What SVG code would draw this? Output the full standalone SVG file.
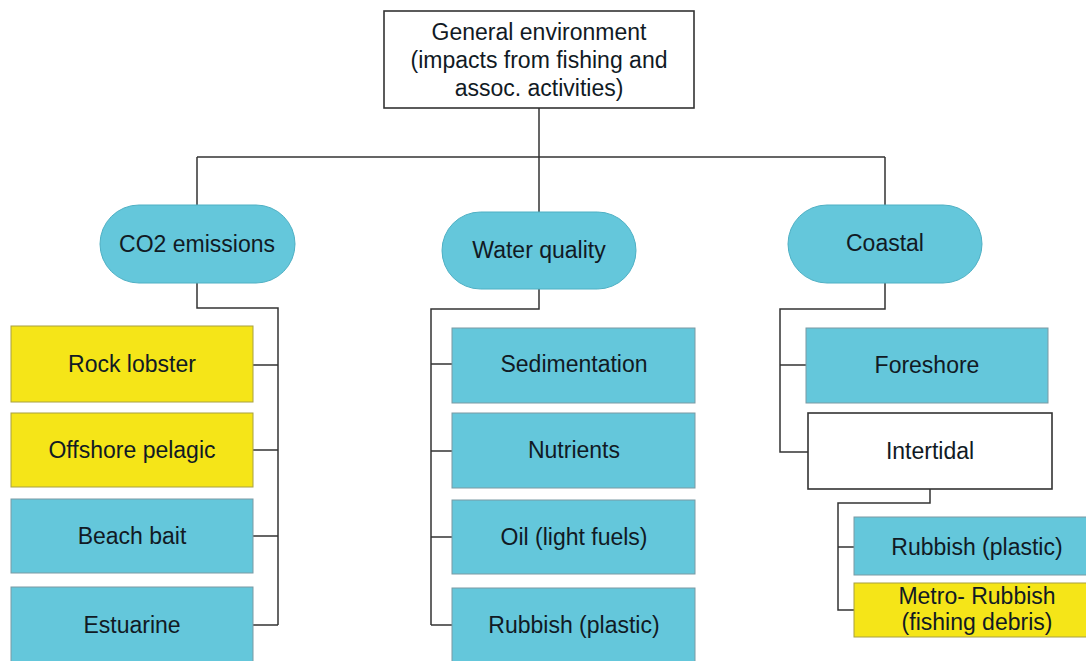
<svg xmlns="http://www.w3.org/2000/svg" width="1086" height="661" viewBox="0 0 1086 661">
<style>
.bg{fill:#ffffff}
.pill{fill:#64c7db;stroke:#4fb0c4;stroke-width:1}
.blue{fill:#64c7db;stroke:#7a9aa3;stroke-width:1}
.yellow{fill:#f5e518;stroke:#a8a040;stroke-width:1}
.white{fill:#ffffff;stroke:#333333;stroke-width:1.6}
.lbl{font-family:"Liberation Sans",Arial,sans-serif;font-size:23px;fill:#111a24;text-anchor:middle}
.conn{fill:none;stroke:#333333;stroke-width:1.5}
</style>
<rect class="bg" x="0" y="0" width="1086" height="661"/>
<g id="connectors">
<path class="conn" d="M539,108 V157 M197,157 H885 M197,157 V205 M539,157 V212 M885,157 V205"/>
<path class="conn" d="M197,283 V308 H278 V625 M253,365 H278 M253,450 H278 M253,536 H278 M253,625 H278"/>
<path class="conn" d="M539,289 V309 H431 V625 M431,364 H452 M431,451 H452 M431,537 H452 M431,625 H452"/>
<path class="conn" d="M885,283 V309 H780 V452 H808 M780,365 H806"/>
<path class="conn" d="M930,489 V503 H838 V610 H854 M838,547 H854"/>
</g>
<g id="n-general">
<rect class="white" x="384" y="11" width="310" height="97"/>
<text class="lbl" x="539" y="40">General environment</text>
<text class="lbl" x="539" y="68">(impacts from fishing and</text>
<text class="lbl" x="539" y="96">assoc. activities)</text>
</g>
<g id="n-co2">
<rect class="pill" x="100" y="205" width="195" height="78" rx="39"/>
<text class="lbl" x="197" y="252">CO2 emissions</text>
</g>
<g id="n-water">
<rect class="pill" x="442" y="212" width="194" height="77" rx="38.5"/>
<text class="lbl" x="539" y="258">Water quality</text>
</g>
<g id="n-coastal">
<rect class="pill" x="788" y="205" width="194" height="78" rx="39"/>
<text class="lbl" x="885" y="251">Coastal</text>
</g>
<g id="n-rock">
<rect class="yellow" x="11" y="326" width="242" height="76"/>
<text class="lbl" x="132" y="372">Rock lobster</text>
</g>
<g id="n-offshore">
<rect class="yellow" x="11" y="413" width="242" height="74"/>
<text class="lbl" x="132" y="458">Offshore pelagic</text>
</g>
<g id="n-beach">
<rect class="blue" x="11" y="499" width="242" height="74"/>
<text class="lbl" x="132" y="544">Beach bait</text>
</g>
<g id="n-estuarine">
<rect class="blue" x="11" y="587" width="242" height="80"/>
<text class="lbl" x="132" y="633">Estuarine</text>
</g>
<g id="n-sediment">
<rect class="blue" x="452" y="328" width="243" height="75"/>
<text class="lbl" x="574" y="372">Sedimentation</text>
</g>
<g id="n-nutrients">
<rect class="blue" x="452" y="413" width="243" height="75"/>
<text class="lbl" x="574" y="458">Nutrients</text>
</g>
<g id="n-oil">
<rect class="blue" x="452" y="500" width="243" height="74"/>
<text class="lbl" x="574" y="545">Oil (light fuels)</text>
</g>
<g id="n-rubbish-wq">
<rect class="blue" x="452" y="588" width="243" height="80"/>
<text class="lbl" x="574" y="633">Rubbish (plastic)</text>
</g>
<g id="n-foreshore">
<rect class="blue" x="806" y="328" width="242" height="75"/>
<text class="lbl" x="927" y="373">Foreshore</text>
</g>
<g id="n-intertidal">
<rect class="white" x="808" y="413" width="244" height="76"/>
<text class="lbl" x="930" y="459">Intertidal</text>
</g>
<g id="n-rubbish-c">
<rect class="blue" x="854" y="517" width="240" height="58"/>
<text class="lbl" x="977" y="555">Rubbish (plastic)</text>
</g>
<g id="n-metro">
<rect class="yellow" x="854" y="583" width="240" height="54"/>
<text class="lbl" x="977" y="604">Metro- Rubbish</text>
<text class="lbl" x="977" y="630">(fishing debris)</text>
</g>
</svg>
